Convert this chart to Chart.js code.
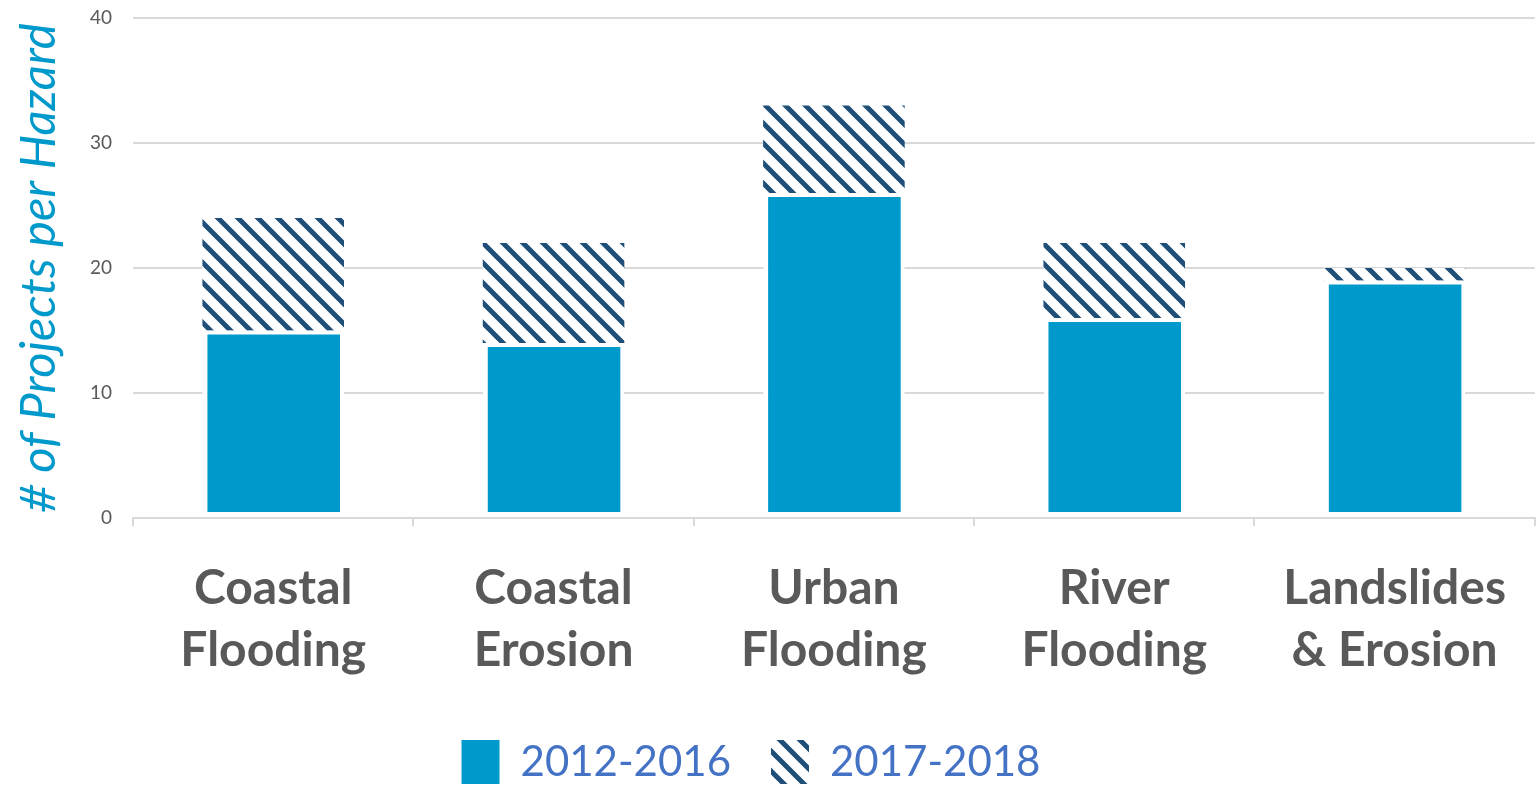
<!DOCTYPE html>
<html>
<head>
<meta charset="utf-8">
<script src="https://cdn.jsdelivr.net/npm/chart.js@4.4.1/dist/chart.umd.min.js"></script>
<style>
  html, body { margin: 0; padding: 0; background: #fff; }
  #wrap { width: 1537px; height: 787px; position: relative; }
</style>
</head>
<body>
<div id="wrap"><canvas id="hazards"></canvas></div>
<script>
const hazards = [["Coastal", "Flooding"], ["Coastal", "Erosion"], ["Urban", "Flooding"], ["River", "Flooding"], ["Landslides", "& Erosion"]];
const projects2012to2016 = [15, 14, 26, 16, 19];
const projects2017to2018 = [9, 8, 7, 6, 1];
const yTicks = [0, 10, 20, 30, 40];

// diagonal "\" stripes for the later period
function stripePattern() {
    const size = 20;
    const c = document.createElement("canvas");
    c.width = size;
    c.height = size;
    const g = c.getContext("2d");
    g.fillStyle = "#ffffff";
    g.fillRect(0, 0, size, size);
    g.strokeStyle = "#1f4e79";
    g.lineWidth = 5;
    g.beginPath();
    g.moveTo(-size, -size);
    g.lineTo(size * 2, size * 2);
    g.moveTo(-size, 0);
    g.lineTo(size, size * 2);
    g.moveTo(0, -size);
    g.lineTo(size * 2, size);
    g.stroke();
    return g.createPattern(c, "repeat");
}

const hatch = stripePattern();
const solidBlue = "#0099cc";

// legend sits a little left of centre
const legendNudge = {
    id: "legendNudge",
    afterLayout(chart) {
        chart.legend.left -= 28;
        chart.legend.right -= 28;
    }
};

new Chart(document.getElementById("hazards"), {
    type: "bar",
    data: {
        labels: hazards,
        datasets: [{
            label: "2012-2016",
            data: projects2012to2016,
            backgroundColor: solidBlue,
            borderColor: "#ffffff",
            borderWidth: {left: 5, right: 4, top: 4, bottom: 5},
            borderSkipped: false
        }, {
            label: "2017-2018",
            data: projects2017to2018,
            backgroundColor: hatch,
            borderWidth: 0
        }]
    },
    plugins: [legendNudge],
    options: {
        responsive: true,
        maintainAspectRatio: false,
        animation: false,
        layout: {padding: {top: 18, right: -6, left: 15, bottom: -7}},
        datasets: {bar: {categoryPercentage: 1, barPercentage: 0.505}},
        plugins: {
            tooltip: {enabled: false},
            legend: {
                position: "bottom",
                labels: {
                    color: "#4472c4",
                    font: {family: "Lato", size: 42},
                    boxWidth: 38,
                    boxHeight: 44,
                    padding: 40,
                    generateLabels: (chart) => Chart.defaults.plugins.legend.labels.generateLabels(chart)
                        .map(item => Object.assign(item, {lineWidth: 0}))
                }
            }
        },
        scales: {
            x: {
                stacked: true,
                z: 1,
                afterFit: (scale) => { scale.height = 182; },
                grid: {
                    drawOnChartArea: false,
                    color: "#d9d9d9",
                    lineWidth: 2,
                    tickLength: 8,
                    offset: true
                },
                border: {color: "#d9d9d9", width: 2},
                ticks: {
                    color: "#595959",
                    font: {family: "Lato", size: 48, weight: "bold", lineHeight: 1.3},
                    padding: 31
                }
            },
            y: {
                stacked: true,
                min: yTicks[0],
                max: yTicks[yTicks.length - 1],
                afterBuildTicks: (axis) => { axis.ticks = yTicks.map(v => ({value: v})); },
                afterFit: (scale) => { scale.paddingTop = 0; },
                grid: {color: "#d9d9d9", lineWidth: 2, drawTicks: false},
                border: {display: false},
                ticks: {
                    color: "#595959",
                    font: {family: "Lato", size: 19},
                    padding: 21
                },
                title: {
                    display: true,
                    text: "# of Projects per Hazard",
                    color: solidBlue,
                    font: {family: "Lato", size: 49, style: "italic", lineHeight: 1},
                    padding: {top: 0, bottom: 5}
                }
            }
        }
    }
});
</script>
</body>
</html>
